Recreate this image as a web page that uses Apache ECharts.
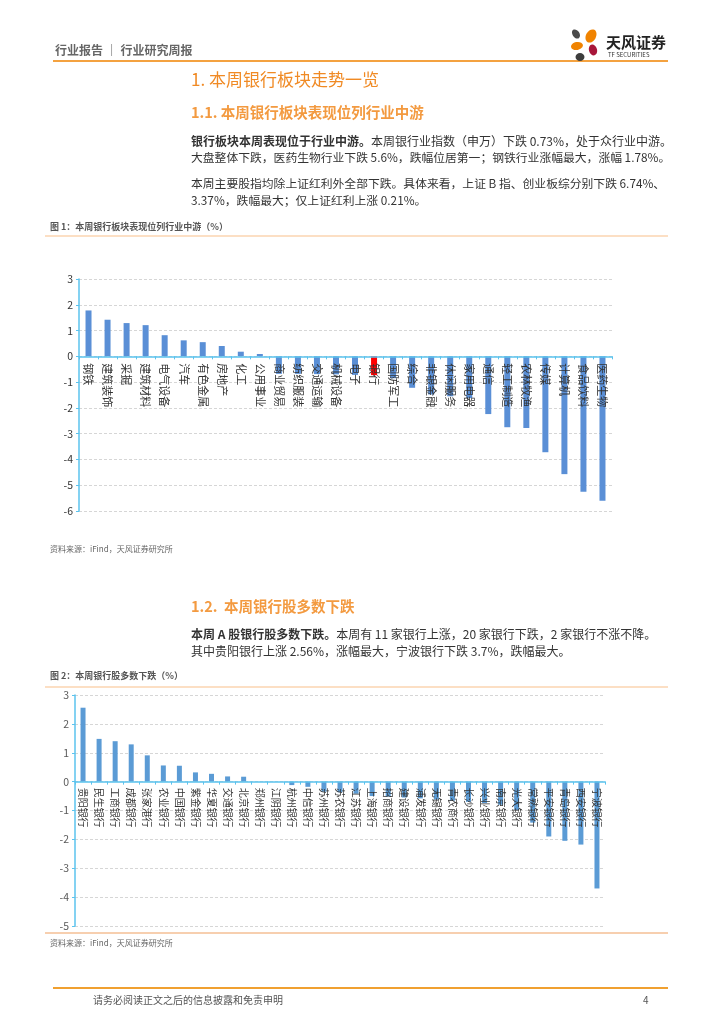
<!DOCTYPE html>
<html><head><meta charset="utf-8">
<script src="https://cdn.jsdelivr.net/npm/echarts@6/dist/echarts.min.js"></script>
<style>html,body{margin:0;padding:0;background:#fff}#c{width:724px;height:1024px}</style>
</head><body><div id="c"></div>
<script>
const industries = ['钢铁','建筑装饰','采掘','建筑材料','电气设备','汽车','有色金属','房地产','化工','公用事业','商业贸易','纺织服装','交通运输','机械设备','电子','银行','国防军工','综合','非银金融','休闲服务','家用电器','通信','轻工制造','农林牧渔','传媒','计算机','食品饮料','医药生物'];
const industryChange = [1.78,1.42,1.29,1.21,0.82,0.62,0.55,0.40,0.18,0.09,-0.68,-0.68,-0.69,-0.70,-0.72,-0.73,-0.85,-1.22,-1.48,-1.55,-1.62,-2.24,-2.75,-2.78,-3.72,-4.57,-5.25,-5.60];
const banks = ['贵阳银行','民生银行','工商银行','成都银行','张家港行','农业银行','中国银行','紫金银行','华夏银行','交通银行','北京银行','郑州银行','江阴银行','杭州银行','中信银行','苏州银行','苏农银行','江苏银行','上海银行','招商银行','建设银行','浦发银行','无锡银行','青农商行','长沙银行','兴业银行','南京银行','光大银行','常熟银行','平安银行','青岛银行','西安银行','宁波银行'];
const bankChange = [2.56,1.48,1.40,1.29,0.91,0.56,0.55,0.32,0.27,0.18,0.17,0,0,-0.12,-0.18,-0.35,-0.37,-0.42,-0.50,-0.52,-0.55,-0.58,-0.62,-0.66,-0.70,-0.74,-0.80,-0.98,-1.42,-1.90,-2.05,-2.18,-3.70];
const yTicks1 = {min:-6,max:3,interval:1};
const yTicks2 = {min:-5,max:3,interval:1};

const FONT = '"Noto Sans CJK SC","Noto Sans",sans-serif';
const ORANGE = '#F08A24';
function txt(x,y,text,size,color,opt){
  opt = opt||{};
  return {type:'text',x:x,y:y,z:10,style:{text:text,font:(opt.weight||'normal')+' '+size+'px '+FONT,fill:color,textAlign:opt.align||'left',textVerticalAlign:'middle',rich:opt.rich}};
}
function line(x1,y1,x2,y2,color,w){
  return {type:'line',z:10,shape:{x1:x1,y1:y1,x2:x2,y2:y2},style:{stroke:color,lineWidth:w}};
}
const bodyRich = {b:{fontWeight:'bold',fontSize:12,fontFamily:FONT,fill:'#333'}};
const graphics = [
  txt(55,50,'行业报告 ｜ 行业研究周报',12,'#666',{weight:'bold'}),
  line(53,61,668,61,'#F08300',1.5),
  {type:'ellipse',z:10,shape:{cx:576,cy:34,rx:3.5,ry:5},rotation:0.6,origin:[576,34],style:{fill:'#4a4a4a'}},
  {type:'ellipse',z:10,shape:{cx:591,cy:36,rx:5,ry:7},rotation:-0.5,origin:[591,36],style:{fill:'#F08300'}},
  {type:'ellipse',z:10,shape:{cx:577,cy:46,rx:6,ry:4},rotation:0.2,origin:[577,46],style:{fill:'#F08300'}},
  {type:'ellipse',z:10,shape:{cx:593,cy:50,rx:4,ry:5.5},rotation:0.3,origin:[593,50],style:{fill:'#A8173A'}},
  {type:'ellipse',z:10,shape:{cx:580,cy:57,rx:4.5,ry:4},style:{fill:'#3d3d3d'}},
  txt(606,42,'天风证券',15,'#222',{weight:'bold'}),
  txt(608,55,'TF SECURITIES',6,'#333'),
  txt(191,80,'1. 本周银行板块走势一览',17,ORANGE),
  txt(191,112,'1.1. 本周银行板块表现位列行业中游',14.5,'#F39A40',{weight:'bold'}),
  txt(191,141,'{b|银行板块本周表现位于行业中游。}本周银行业指数（申万）下跌 0.73%，处于众行业中游。',12,'#333',{rich:bodyRich}),
  txt(191,158,'大盘整体下跌，医药生物行业下跌 5.6%，跌幅位居第一；钢铁行业涨幅最大，涨幅 1.78%。',11.8,'#333'),
  txt(191,184,'本周主要股指均除上证红利外全部下跌。具体来看，上证 B 指、创业板综分别下跌 6.74%、',11.8,'#333'),
  txt(191,201,'3.37%，跌幅最大；仅上证红利上涨 0.21%。',11.8,'#333'),
  txt(50,227,'图 1：本周银行板块表现位列行业中游（%）',9,'#555',{weight:'bold'}),
  line(45,236,668,236,'#F9BF8A',1.2),
  txt(50,549,'资料来源：iFind，天风证券研究所',8,'#666'),
  txt(191,606,'1.2.  本周银行股多数下跌',14.5,'#F39A40',{weight:'bold'}),
  txt(191,634,'{b|本周 A 股银行股多数下跌。}本周有 11 家银行上涨，20 家银行下跌，2 家银行不涨不降。',12,'#333',{rich:bodyRich}),
  txt(191,651,'其中贵阳银行上涨 2.56%，涨幅最大，宁波银行下跌 3.7%，跌幅最大。',12,'#333'),
  txt(50,676,'图 2：本周银行股多数下跌（%）',9,'#555',{weight:'bold'}),
  line(45,687,668,687,'#F9BF8A',1.2),
  line(45,933,668,933,'#F0A060',1.2),
  txt(50,943,'资料来源：iFind，天风证券研究所',8,'#666'),
  line(53,988,668,988,'#F0A030',2),
  txt(93,1000,'请务必阅读正文之后的信息披露和免责申明',10,'#555'),
  txt(643,1000,'4',10,'#555')
];
const AX = '#5BC3EE';
function xAx(idx,data,fs,off,mg){
  return {type:'category',gridIndex:idx,data:data,z:5,position:'bottom',offset:off,
    axisLine:{onZero:false,lineStyle:{color:AX,width:1.5}},
    axisTick:{show:true,length:3,lineStyle:{color:AX}},
    axisLabel:{interval:0,rotate:-90,fontSize:fs,color:'#333',fontFamily:FONT,margin:mg}};
}
function yAx(idx,t,color){
  return Object.assign({type:'value',gridIndex:idx,
    axisLine:{show:true,lineStyle:{color:AX,width:1.5}},
    axisTick:{show:true,length:3,lineStyle:{color:AX}},
    axisLabel:{fontSize:10.5,color:color,fontFamily:FONT,margin:6},
    splitLine:{lineStyle:{color:'#D6D6D6',type:[3,2]}}},t);
}
const H1 = 232, H2 = 231;
const off1 = -H1*(0-yTicks1.min)/(yTicks1.max-yTicks1.min);
const off2 = -H2*(0-yTicks2.min)/(yTicks2.max-yTicks2.min);
const chart = echarts.init(document.getElementById('c'),null,{renderer:'canvas'});
chart.setOption({
  animation:false,
  backgroundColor:'#fff',
  graphic:graphics,
  grid:[
    {left:79,top:279,width:533,height:H1},
    {left:75,top:695,width:530,height:H2}
  ],
  xAxis:[xAx(0,industries,11,off1,7),xAx(1,banks,10,off2,6)],
  yAxis:[yAx(0,yTicks1,'#333'),yAx(1,yTicks2,'#595959')],
  series:[
    {type:'bar',xAxisIndex:0,yAxisIndex:0,barWidth:6,
     data:industryChange.map((v,i)=>({value:v,itemStyle:{color:industries[i]==='银行'?'#FF0000':'#5A8FD6'}}))},
    {type:'bar',xAxisIndex:1,yAxisIndex:1,barWidth:5,
     data:bankChange,itemStyle:{color:'#5B9BD5'}}
  ]
});
</script></body></html>
